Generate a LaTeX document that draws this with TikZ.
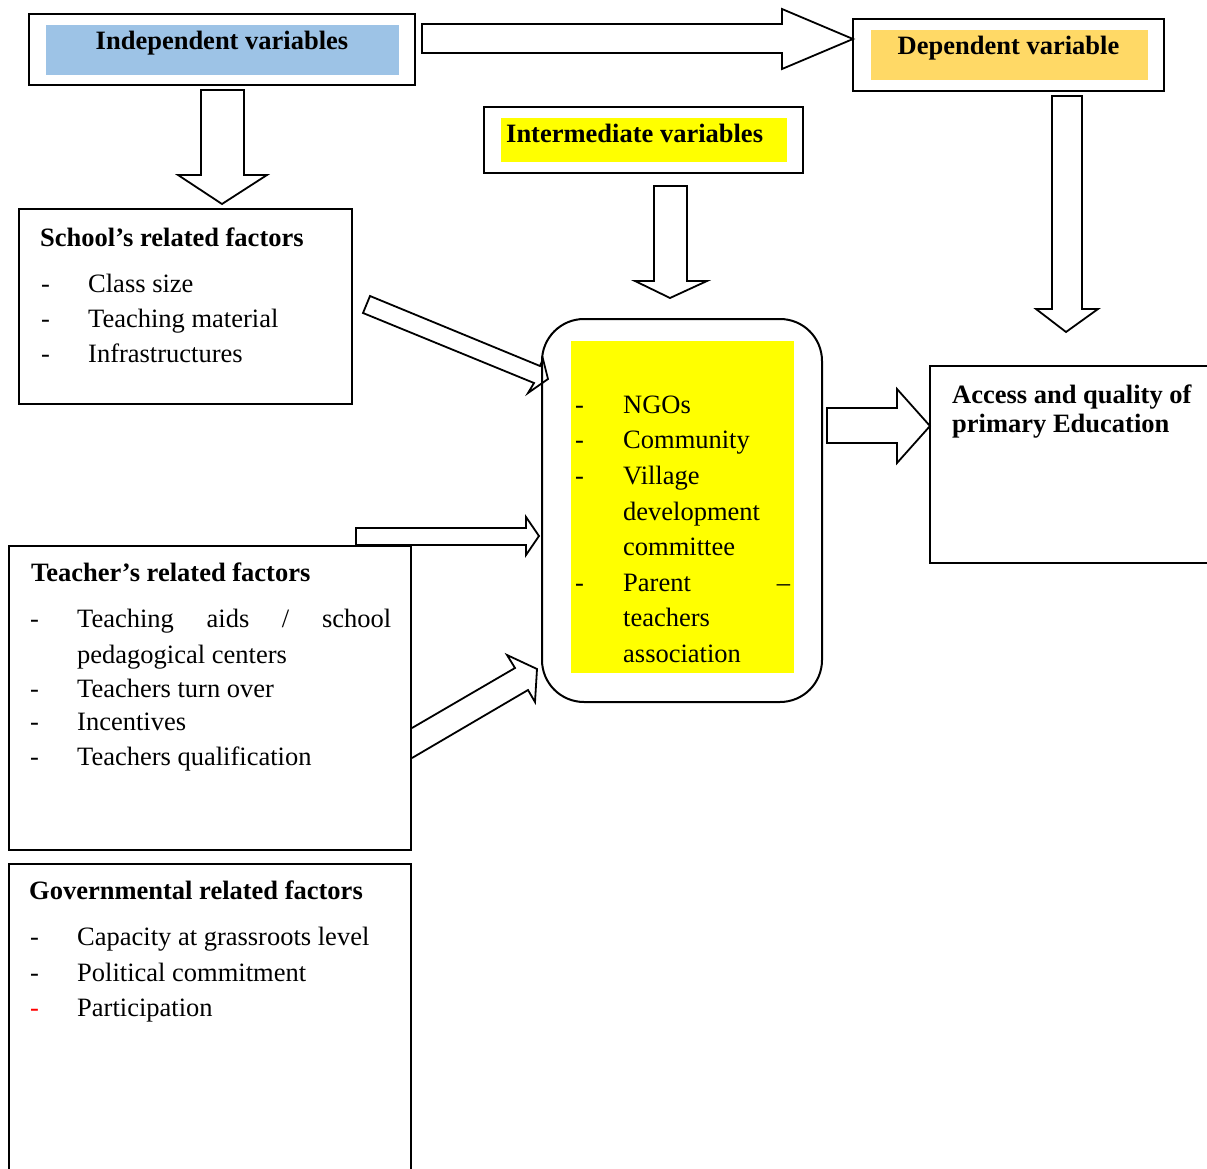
\documentclass[tikz,border=0pt]{standalone}
\usepackage{fontspec}
\setmainfont{Liberation Serif}
\definecolor{indblue}{HTML}{9DC3E6}
\definecolor{depgold}{HTML}{FFD966}
\definecolor{intyellow}{HTML}{FFFF00}
\begin{document}
\begin{tikzpicture}[x=1pt,y=-1pt,
  txt/.style={inner sep=0pt, anchor=base west, font=\fontsize{26.5}{35}\selectfont},
  headtxt/.style={inner sep=0pt, anchor=base west, font=\fontsize{26.5}{35}\selectfont\bfseries},
  frame/.style={draw, line width=2pt, inner sep=0pt, outer sep=0pt},
  thinframe/.style={draw, line width=1.3pt, inner sep=0pt, outer sep=0pt},
  fillbox/.style={inner sep=0pt, outer sep=0pt},
  barrow/.style={draw, line width=1.8pt, line join=miter}]
\useasboundingbox (0,0) rectangle (1207,1169);

% ---- block arrows ----
\draw[barrow] (422,24) -- (782,24) -- (782,9) -- (853,39) -- (782,69) -- (782,53) -- (422,53) -- cycle;
\draw[barrow] (201,90) -- (244,90) -- (244,175) -- (267,175) -- (222,204) -- (178,175) -- (201,175) -- cycle;
\draw[barrow] (654,186) -- (687,186) -- (687,281) -- (707,281) -- (670,298) -- (635,281) -- (654,281) -- cycle;
\draw[barrow] (1052,96) -- (1082,96) -- (1082,309) -- (1098,309) -- (1066,332) -- (1036,309) -- (1052,309) -- cycle;
\draw[barrow] (370,296) -- (540,366) -- (543,359) -- (548,379) -- (528,393) -- (534,383) -- (363,313) -- cycle;
\draw[barrow] (356,545) -- (356,528) -- (526,528) -- (526,517) -- (539,536) -- (526,555) -- (526,545) -- cycle;
\draw[barrow] (412,728) -- (515,668) -- (507,655) -- (537,669) -- (535,702) -- (528,690) -- (412,758);
\draw[barrow] (827,408) -- (897,408) -- (897,389) -- (930,426) -- (897,463) -- (897,443) -- (827,443) -- cycle;

% ---- boxes ----
\node[frame, minimum width=386pt, minimum height=71pt] (indep) at (222,49.5) {};
\node[fillbox, fill=indblue, minimum width=353pt, minimum height=50pt] (indepfill) at (222.5,50) {};
\node[frame, minimum width=311pt, minimum height=72pt] (dep) at (1008.5,55) {};
\node[fillbox, fill=depgold, minimum width=277pt, minimum height=50pt] (depfill) at (1009.5,55) {};
\node[frame, minimum width=319pt, minimum height=66pt] (inter) at (643.5,140) {};
\node[fillbox, fill=intyellow, minimum width=286pt, minimum height=44pt] (interfill) at (644,140) {};
\node[frame, minimum width=333pt, minimum height=195pt] (school) at (185.5,306.5) {};
\node[frame, rounded corners=42pt, minimum width=280pt, minimum height=383pt] (central) at (682,510.5) {};
\node[fillbox, fill=intyellow, minimum width=223pt, minimum height=332pt] (centralfill) at (682.5,507) {};
\node[frame, minimum width=290pt, minimum height=197pt] (access) at (1075,464.5) {};
\node[thinframe, minimum width=402pt, minimum height=304pt] (teacher) at (210,698) {};
\node[thinframe, minimum width=402pt, minimum height=321pt] (gov) at (210,1024.5) {};

% ---- titles ----
\node[headtxt, anchor=base] (indept) at (222,50) {Independent variables};
\node[headtxt, anchor=base] (dept) at (1008.5,55) {Dependent variable};
\node[headtxt] (intert) at (506,143) {Intermediate variables};

% ---- school ----
\node[headtxt] (schoolh) at (40,247) {School’s related factors};
\node[txt] (sd1) at (41,292) {-};
\node[txt] (sd2) at (41,327) {-};
\node[txt] (sd3) at (41,362) {-};
\node[txt] (s1) at (88,292) {Class size};
\node[txt] (s2) at (88,327) {Teaching material};
\node[txt] (s3) at (88,362) {Infrastructures};

% ---- central ----
\node[txt] (cd1) at (575,413) {-};
\node[txt] (cd2) at (575,448) {-};
\node[txt] (cd3) at (575,484) {-};
\node[txt] (cd4) at (575,591) {-};
\node[txt] (c1) at (623,413) {NGOs};
\node[txt] (c2) at (623,448) {Community};
\node[txt] (c3) at (623,484) {Village};
\node[txt] (c4) at (623,520) {development};
\node[txt] (c5) at (623,555) {committee};
\node[txt] (c6) at (623,591) {\hbox to 167pt{Parent\hfill –}};
\node[txt] (c7) at (623,626) {teachers};
\node[txt] (c8) at (623,662) {association};

% ---- access ----
\node[headtxt] (acc1) at (952,403) {Access and quality of};
\node[headtxt] (acc2) at (952,432) {primary Education};

% ---- teacher ----
\node[headtxt] (teacherh) at (31,581) {Teacher’s related factors};
\node[txt] (td1) at (30,627) {-};
\node[txt] (td2) at (30,697) {-};
\node[txt] (td3) at (30,730) {-};
\node[txt] (td4) at (30,765) {-};
\node[txt] (t1) at (77,627) {\hbox to 314pt{Teaching\hfill aids\hfill /\hfill school}};
\node[txt] (t1b) at (77,663) {pedagogical centers};
\node[txt] (t2) at (77,697) {Teachers turn over};
\node[txt] (t3) at (77,730) {Incentives};
\node[txt] (t4) at (77,765) {Teachers qualification};

% ---- governmental ----
\node[headtxt] (govh) at (29,899) {Governmental related factors};
\node[txt] (gd1) at (30,945) {-};
\node[txt] (gd2) at (30,981) {-};
\node[txt, text=red] (gd3) at (30,1016) {-};
\node[txt] (g1) at (77,945) {Capacity at grassroots level};
\node[txt] (g2) at (77,981) {Political commitment};
\node[txt] (g3) at (77,1016) {Participation};
\end{tikzpicture}
\end{document}
